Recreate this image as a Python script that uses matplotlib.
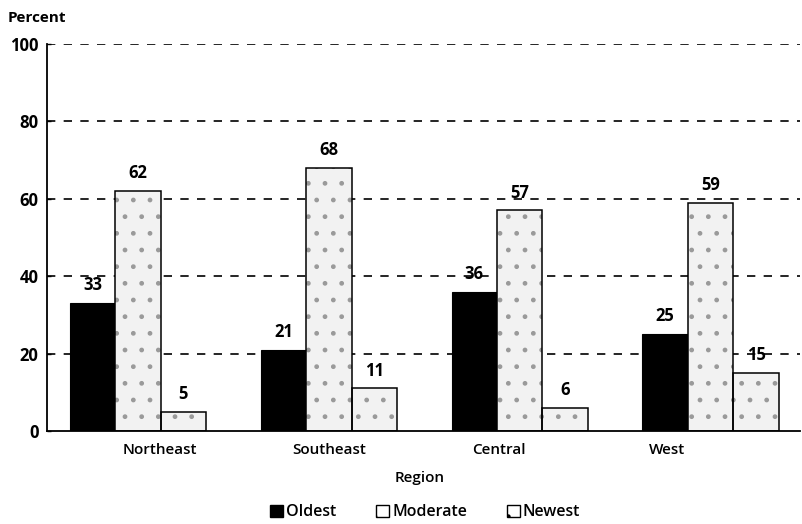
import matplotlib.pyplot as plt
import matplotlib.patches as mpatches
import numpy as np

plt.rcParams['font.family'] = ['Open Sans', 'DejaVu Sans']

# data
regions = ["Northeast", "Southeast", "Central", "West"]
oldest = [33, 21, 36, 25]
moderate = [62, 68, 57, 59]
newest = [5, 11, 6, 15]
yticks = [0, 20, 40, 60, 80, 100]

x = np.arange(len(regions))
w = 0.238

fig = plt.figure(figsize=(8.02, 5.24), dpi=100)
ax = fig.add_axes([0.0586, 0.1775, 0.9384, 0.7385])

# grid behind bars
for t in yticks[1:]:
    ax.axhline(t, color="black", lw=1.2, ls=(0, (5, 5)), zorder=0)

ax.bar(x - w, oldest, w, color="black", edgecolor="black", lw=0.8, zorder=2)
for off, vals in [(0, moderate), (w, newest)]:
    ax.bar(x + off, vals, w, facecolor="#f2f2f2", edgecolor="#9a9a9a",
           hatch=".", lw=0, zorder=2)
    ax.bar(x + off, vals, w, fill=False, edgecolor="black", lw=1.1, zorder=3)

for off, vals in [(-w, oldest), (0, moderate), (w, newest)]:
    for xi, v in zip(x, vals):
        ax.text(xi + off, v + 2.3, str(v), ha="center", va="bottom",
                fontsize=12, fontweight="bold")

ax.set_xlim(-0.476, 3.466)
ax.set_ylim(0, 100)
ax.set_yticks(yticks)
ax.set_yticklabels([str(t) for t in yticks], fontsize=12, fontweight="bold")
ax.tick_params(axis="y", direction="in", length=3, width=1, pad=6)

# region labels sit a little off the group centres in the original
label_shift = [0.115, 0.0, -0.11, -0.23]
ax.set_xticks([])
for xi, s, name in zip(x, label_shift, regions):
    ax.text(xi + s, -3.2, name, ha="center", va="top", fontsize=11,
            fontweight="semibold")

for s in ["top", "right"]:
    ax.spines[s].set_visible(False)
ax.spines["left"].set_linewidth(1.3)
ax.spines["bottom"].set_linewidth(1.3)

fig.text(0.523, 0.088, "Region", ha="center", va="center", fontsize=11,
         fontweight="semibold")
fig.text(0.01, 0.965, "Percent", ha="left", va="center", fontsize=11,
         fontweight="bold")

handles = [
    mpatches.Patch(facecolor="black", edgecolor="black", label="Oldest"),
    mpatches.Patch(facecolor="white", edgecolor="black", hatch=".", label="Moderate"),
    mpatches.Patch(facecolor="white", edgecolor="black", hatch=".", label="Newest"),
]
leg = fig.legend(handles=handles, loc="center", bbox_to_anchor=(0.53, 0.022),
                 ncol=3, frameon=False, fontsize=11.5, handlelength=0.8,
                 handleheight=0.8, handletextpad=0.2, columnspacing=2.5)
for t in leg.get_texts():
    t.set_fontweight("semibold")

fig.savefig("out.png", dpi=100)
